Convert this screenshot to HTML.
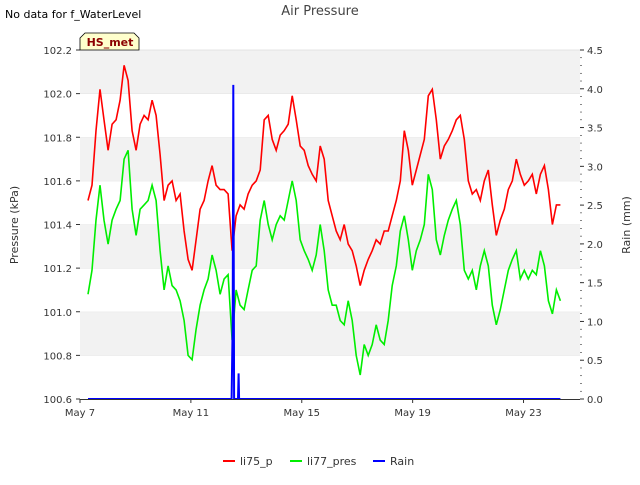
<!DOCTYPE html>
<html><head><meta charset="utf-8"><style>
body{margin:0;background:#fff;font-family:"Liberation Sans","DejaVu Sans",sans-serif;}
svg text{font-family:"DejaVu Sans","Liberation Sans",sans-serif;}
</style></head><body>
<svg id="chart" width="640" height="480" xmlns="http://www.w3.org/2000/svg">
<text x="5" y="18" font-size="11" fill="#000">No data for f_WaterLevel</text>
<text x="320" y="15" font-size="13" fill="#444" text-anchor="middle">Air Pressure</text>
<g id="bands"></g>
<g id="plot"></g>
<g id="axes"></g>
<g>
<path d="M80,50 L80,38 L85,33 L134,33 L139,38 L139,50 Z" fill="#ffffcc" stroke="#000" stroke-width="0.8"/>
<text x="110" y="46" font-size="11" font-weight="bold" fill="#8b0000" text-anchor="middle">HS_met</text>
</g>
<text transform="translate(18,225) rotate(-90)" font-size="11" fill="#333" text-anchor="middle">Pressure (kPa)</text>
<text transform="translate(630,225) rotate(-90)" font-size="11" fill="#333" text-anchor="middle">Rain (mm)</text>
<g>
<g><line x1="223" y1="461" x2="235" y2="461" stroke="#ff0000" stroke-width="2"/><text x="240" y="465" font-size="11" fill="#333">li75_p</text></g>
<g><line x1="290" y1="461" x2="302" y2="461" stroke="#00ee00" stroke-width="2"/><text x="307" y="465" font-size="11" fill="#333">li77_pres</text></g>
<g><line x1="373" y1="461" x2="385" y2="461" stroke="#0000ff" stroke-width="2"/><text x="390" y="465" font-size="11" fill="#333">Rain</text></g>
</g>
</svg>
<script>
const xTickLabels=["May 7","May 11","May 15","May 19","May 23"];
const xTickDays=[0,4,8,12,16];
const yTicks=[100.6,100.8,101.0,101.2,101.4,101.6,101.8,102.0,102.2];
const y2Ticks=[0,0.5,1,1.5,2,2.5,3,3.5,4,4.5];
const tStart=0.29, tStep=0.1444;
const li75=[101.51,101.58,101.83,102.02,101.88,101.74,101.86,101.88,101.97,102.13,102.06,101.83,101.74,101.86,101.90,101.88,101.97,101.90,101.72,101.51,101.58,101.60,101.51,101.54,101.37,101.24,101.19,101.33,101.47,101.51,101.60,101.67,101.58,101.56,101.56,101.54,101.28,101.44,101.49,101.47,101.54,101.58,101.60,101.65,101.88,101.90,101.79,101.74,101.81,101.83,101.86,101.99,101.88,101.76,101.74,101.67,101.63,101.60,101.76,101.70,101.51,101.44,101.37,101.33,101.40,101.31,101.28,101.21,101.12,101.19,101.24,101.28,101.33,101.31,101.37,101.37,101.44,101.51,101.60,101.83,101.74,101.58,101.65,101.72,101.79,101.99,102.02,101.88,101.70,101.76,101.79,101.83,101.88,101.90,101.79,101.60,101.54,101.56,101.51,101.60,101.65,101.49,101.35,101.42,101.47,101.56,101.60,101.70,101.63,101.58,101.60,101.63,101.54,101.63,101.67,101.56,101.40,101.49,101.49];
const li77=[101.08,101.19,101.42,101.58,101.42,101.31,101.42,101.47,101.51,101.70,101.74,101.47,101.35,101.47,101.49,101.51,101.58,101.51,101.28,101.10,101.21,101.12,101.10,101.05,100.96,100.80,100.78,100.92,101.03,101.10,101.15,101.26,101.19,101.08,101.15,101.17,100.87,101.10,101.03,101.01,101.10,101.19,101.21,101.42,101.51,101.40,101.33,101.40,101.44,101.42,101.51,101.60,101.51,101.33,101.28,101.24,101.19,101.26,101.40,101.28,101.10,101.03,101.03,100.96,100.94,101.05,100.96,100.80,100.71,100.85,100.80,100.85,100.94,100.87,100.85,100.96,101.12,101.21,101.37,101.44,101.33,101.19,101.28,101.33,101.40,101.63,101.56,101.33,101.26,101.35,101.42,101.47,101.51,101.40,101.19,101.15,101.19,101.10,101.21,101.28,101.21,101.03,100.94,101.01,101.10,101.19,101.24,101.28,101.15,101.19,101.15,101.19,101.17,101.28,101.21,101.05,100.99,101.10,101.05];
const rainDays=[0.29,5.47,5.51,5.53,5.56,5.70,5.72,5.74,5.76,17.33];
const rainVals=[0,0,1.0,4.05,0,0,0.33,0,0,0];
const NS="http://www.w3.org/2000/svg";
const L=80,R=580,T=50,B=399;
const xs=d=>L+d*27.72;
const ys=v=>B-(v-100.6)/1.6*(B-T);
const y2s=v=>B-v/4.5*(B-T);
function mk(tag,attrs,parent){const e=document.createElementNS(NS,tag);for(const k in attrs)e.setAttribute(k,attrs[k]);parent.appendChild(e);return e;}
const bands=document.getElementById('bands'),plot=document.getElementById('plot'),axes=document.getElementById('axes');
for(let i=0;i<yTicks.length-1;i++){
  const b=mk('rect',{x:L,y:ys(yTicks[i+1]),width:R-L,height:ys(yTicks[i])-ys(yTicks[i+1]),fill:(i%2===1)?'#f2f2f2':'#ffffff'},bands);
  
  
  const g=mk('line',{x1:L,x2:R,y1:ys(yTicks[i+1]),y2:ys(yTicks[i+1]),stroke:'#dddddd','stroke-width':0.8},bands);
  
  
}
function line(days,vals,scale,color,name,w){
  const pts=vals.map((v,i)=>xs(days?days[i]:tStart+i*tStep).toFixed(1)+','+scale(v).toFixed(1)).join(' ');
  const p=mk('polyline',{points:pts,fill:'none',stroke:color,'stroke-width':w},plot);
  
  
}
line(null,li75,ys,'#ff0000','series-li75-p',1.6);
line(null,li77,ys,'#00ee00','series-li77-pres',1.6);
line(rainDays,rainVals,y2s,'#0000ff','series-rain',2);
mk('line',{x1:L,x2:R,y1:B+0.5,y2:B+0.5,stroke:'#333','stroke-width':1},axes);
yTicks.forEach(v=>{
  mk('line',{x1:L-4,x2:L,y1:ys(v),y2:ys(v),stroke:'#333'},axes);
  const t=mk('text',{x:L-8,y:ys(v)+4,'font-size':10,fill:'#333','text-anchor':'end'},axes);
  t.textContent=v.toFixed(1);
  
  
});
y2Ticks.forEach(v=>{
  mk('line',{x1:R,x2:R+4,y1:y2s(v),y2:y2s(v),stroke:'#333'},axes);
  const t=mk('text',{x:R+7,y:y2s(v)+4,'font-size':10,fill:'#333'},axes);
  t.textContent=v.toFixed(1);
  
  
});
for(let v=0;v<=4.5;v+=0.1){mk('line',{x1:R,x2:R+2,y1:y2s(v),y2:y2s(v),stroke:'#333','stroke-width':0.6},axes);}
xTickDays.forEach((d,i)=>{
  mk('line',{x1:xs(d),x2:xs(d),y1:B,y2:B+4,stroke:'#333'},axes);
  const t=mk('text',{x:xs(d),y:B+17,'font-size':10,fill:'#333','text-anchor':'middle'},axes);
  t.textContent=xTickLabels[i];
  
  
});
</script>
</body></html>
